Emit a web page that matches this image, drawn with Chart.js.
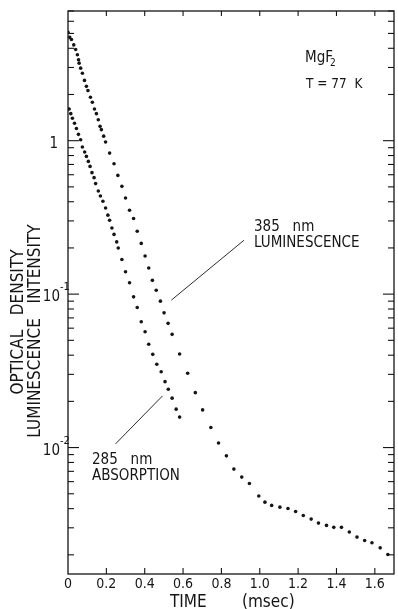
<!DOCTYPE html>
<html>
<head>
<meta charset="utf-8">
<script src="https://cdn.jsdelivr.net/npm/chart.js@4.4.1/dist/chart.umd.min.js"></script>
<style>
html,body{margin:0;padding:0;background:#fff;}
canvas{display:block;}
</style>
</head>
<body>
<canvas id="c" width="398" height="609"></canvas>
<script>
// 385 nm luminescence (time in msec, intensity)
const lumTime = [0.000,0.009,0.018,0.030,0.040,0.049,0.055,0.058,0.066,0.075,0.086,0.096,0.104,0.117,0.127,0.138,0.148,0.158,0.167,0.174,0.186,0.196,0.217,0.240,0.260,0.281,0.300,0.321,0.342,0.361,0.382,0.402,0.421,0.440,0.460,0.482,0.501,0.522,0.543,0.582,0.624,0.664,0.702,0.745,0.785,0.826,0.865,0.906,0.946,0.995,1.027,1.062,1.105,1.147,1.187,1.227,1.268,1.306,1.348,1.386,1.426,1.467,1.507,1.547,1.585,1.628,1.668];
const lumValues = [5.09,4.72,4.56,4.21,3.93,3.63,3.37,3.20,2.97,2.75,2.47,2.26,2.12,1.92,1.78,1.61,1.50,1.37,1.24,1.18,1.07,0.98,0.83,0.708,0.594,0.504,0.423,0.352,0.311,0.257,0.214,0.177,0.148,0.123,0.106,0.090,0.0755,0.0645,0.0547,0.0407,0.0305,0.0228,0.0176,0.0135,0.0107,0.00883,0.00724,0.00642,0.00583,0.00483,0.00441,0.0042,0.00409,0.00401,0.00383,0.00361,0.00342,0.00322,0.00311,0.00302,0.00302,0.00282,0.00261,0.00248,0.0024,0.00222,0.00201];
// 285 nm absorption (time in msec, optical density)
const absTime = [0.006,0.0145,0.023,0.034,0.044,0.0545,0.066,0.075,0.087,0.096,0.106,0.115,0.125,0.136,0.144,0.158,0.169,0.182,0.196,0.208,0.217,0.229,0.240,0.254,0.262,0.281,0.300,0.321,0.342,0.361,0.382,0.402,0.421,0.442,0.463,0.486,0.506,0.523,0.543,0.564,0.582];
const absValues = [1.61,1.50,1.40,1.30,1.20,1.10,1.015,0.909,0.843,0.79,0.733,0.68,0.619,0.574,0.525,0.47,0.436,0.403,0.364,0.327,0.303,0.27,0.245,0.219,0.2,0.168,0.14,0.1185,0.096,0.0819,0.066,0.0569,0.0471,0.0405,0.0349,0.0312,0.0269,0.024,0.021,0.0178,0.0158];

// axes
const xMin = 0, xMax = 1.7, xStep = 0.2;
const xTickValues = [0,0.2,0.4,0.6,0.8,1.0,1.2,1.4,1.6];
const yMin = 0.0015, yMax = 7;
const yDecades = [0.01, 0.1, 1];
const yDecadeLabels = [['10','-2'], ['10','-1'], ['1','']];

// annotation leader lines in data units: [x1,y1,x2,y2]
const lumLeader = [0.918, 0.2246, 0.539, 0.0914];
const absLeader = [0.248, 0.01057, 0.4925, 0.0217];

const FONT = "'DejaVu Sans Condensed','DejaVu Sans',sans-serif";
const INK = '#151515';

const decor = {
  id: 'decor',
  afterDraw(chart) {
    const {ctx, chartArea: a, scales: {x, y}} = chart;
    ctx.save();
    ctx.strokeStyle = INK;
    ctx.fillStyle = INK;
    ctx.lineWidth = 1.3;
    // frame
    ctx.strokeRect(a.left, a.top, a.right - a.left, a.bottom - a.top);
    ctx.lineWidth = 1.1;
    const seg = (x1, y1, x2, y2) => { ctx.beginPath(); ctx.moveTo(x1, y1); ctx.lineTo(x2, y2); ctx.stroke(); };
    // x ticks inward, top and bottom
    xTickValues.forEach(v => {
      if (v <= xMin) return;
      const px = x.getPixelForValue(v);
      seg(px, a.bottom, px, a.bottom - 6);
      seg(px, a.top, px, a.top + 5);
    });
    // y ticks inward, left and right (log minors)
    for (let e = -3; e <= 0; e++) {
      for (let m = 1; m <= 9; m++) {
        const v = m * Math.pow(10, e);
        if (v < yMin || v > yMax) continue;
        const py = y.getPixelForValue(v);
        const len = m === 1 ? 11 : 6;
        seg(a.left, py, a.left + len, py);
        seg(a.right, py, a.right - len, py);
      }
    }
    // y decade labels
    yDecades.forEach((v, i) => {
      const py = y.getPixelForValue(v);
      const [base, sup] = yDecadeLabels[i];
      ctx.textBaseline = 'alphabetic';
      ctx.textAlign = 'right';
      if (sup) {
        ctx.font = '15px ' + FONT;
        ctx.fillText(base, a.left - 8, py + 7);
        ctx.font = '11px ' + FONT;
        ctx.textAlign = 'left';
        ctx.fillText(sup, a.left - 8, py - 4);
      } else {
        ctx.font = '15px ' + FONT;
        ctx.fillText(base, a.left - 10, py + 7);
      }
    });
    // leader lines
    ctx.lineWidth = 0.9;
    [lumLeader, absLeader].forEach(L => {
      seg(x.getPixelForValue(L[0]), y.getPixelForValue(L[1]), x.getPixelForValue(L[2]), y.getPixelForValue(L[3]));
    });
    // texts
    ctx.textAlign = 'left';
    ctx.textBaseline = 'alphabetic';
    ctx.font = '15px ' + FONT;
    ctx.fillText('MgF', 305, 62);
    ctx.font = '10px ' + FONT;
    ctx.fillText('2', 330, 66);
    ctx.font = '13.5px ' + FONT;
    ctx.fillText('T = 77  K', 306, 88);
    ctx.font = '15px ' + FONT;
    ctx.fillText('385   nm', 254, 231);
    ctx.fillText('LUMINESCENCE', 254, 247);
    ctx.fillText('285   nm', 92, 464);
    ctx.fillText('ABSORPTION', 92, 480);
    // x axis title
    ctx.font = '17px ' + FONT;
    ctx.fillText('TIME', 170, 607);
    ctx.fillText('(msec)', 242, 607);
    // y axis title (two rotated lines)
    ctx.save();
    ctx.translate(23, 322);
    ctx.rotate(-Math.PI / 2);
    ctx.textAlign = 'center';
    ctx.fillText('OPTICAL   DENSITY', 0, 0);
    ctx.restore();
    ctx.save();
    ctx.translate(40, 331);
    ctx.rotate(-Math.PI / 2);
    ctx.textAlign = 'center';
    ctx.fillText('LUMINESCENCE   INTENSITY', 0, 0);
    ctx.restore();
    ctx.restore();
  }
};

const mk = (t, v) => t.map((tt, i) => ({x: tt, y: v[i]}));

new Chart(document.getElementById('c'), {
  type: 'scatter',
  data: {
    datasets: [
      {label: '385 nm LUMINESCENCE', data: mk(lumTime, lumValues), pointRadius: 1.8, pointBackgroundColor: INK, pointBorderWidth: 0, showLine: false},
      {label: '285 nm ABSORPTION', data: mk(absTime, absValues), pointRadius: 1.8, pointBackgroundColor: INK, pointBorderWidth: 0, showLine: false}
    ]
  },
  options: {
    responsive: false,
    animation: false,
    layout: {padding: {left: 0, right: 2, top: 11, bottom: 0}},
    plugins: {legend: {display: false}, tooltip: {enabled: false}},
    scales: {
      x: {
        type: 'linear', min: xMin, max: xMax,
        grid: {display: false, drawTicks: false},
        border: {display: false},
        ticks: {
          stepSize: xStep, includeBounds: false, padding: 2, color: INK, maxRotation: 0,
          font: {family: FONT, size: 14},
          callback: v => Math.abs(v) < 1e-9 ? '0' : v.toFixed(1)
        },
        afterFit: s => { s.height = 35; }
      },
      y: {
        type: 'logarithmic', min: yMin, max: yMax,
        grid: {display: false, drawTicks: false},
        border: {display: false},
        ticks: {display: false},
        afterFit: s => { s.width = 68; }
      }
    }
  },
  plugins: [decor]
});
</script>
</body>
</html>
